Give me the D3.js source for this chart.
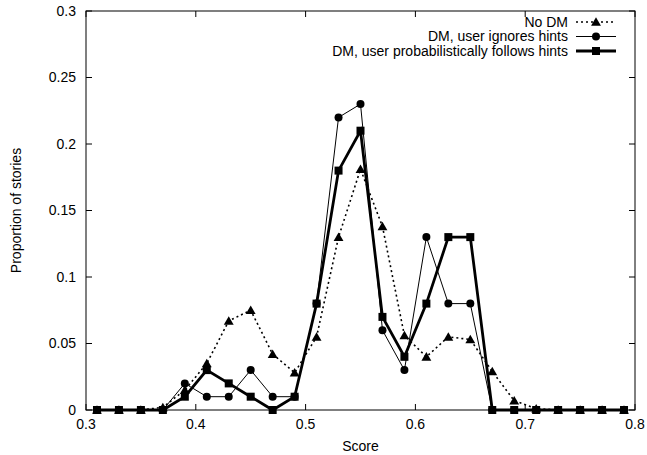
<!DOCTYPE html>
<style>
body { margin: 0; background: #fff; }
text { font-family: "Liberation Sans", Arial, sans-serif; }
</style>
<body>
<svg width="647" height="455"></svg>
<script src="https://d3js.org/d3.v7.min.js"></script>
<script>
var scores = [0.31, 0.33, 0.35, 0.37, 0.39, 0.41, 0.43, 0.45, 0.47, 0.49, 0.51, 0.53, 0.55,
              0.57, 0.59, 0.61, 0.63, 0.65, 0.67, 0.69, 0.71, 0.73, 0.75, 0.77, 0.79];
var noDM     = [0, 0, 0, 0.002, 0.015, 0.035, 0.067, 0.075, 0.042, 0.028, 0.055, 0.13, 0.181,
                0.138, 0.056, 0.04, 0.055, 0.053, 0.029, 0.007, 0.001, 0, 0, 0, 0];
var ignores  = [0, 0, 0, 0, 0.02, 0.01, 0.01, 0.03, 0.01, 0.01, 0.08, 0.22, 0.23,
                0.06, 0.03, 0.13, 0.08, 0.08, 0, 0, 0, 0, 0, 0, 0];
var follows  = [0, 0, 0, 0, 0.01, 0.03, 0.02, 0.01, 0, 0.01, 0.08, 0.18, 0.21,
                0.07, 0.04, 0.08, 0.13, 0.13, 0, 0, 0, 0, 0, 0, 0];
var xTicks = [0.3, 0.4, 0.5, 0.6, 0.7, 0.8];
var yTicks = [0, 0.05, 0.1, 0.15, 0.2, 0.25, 0.3];
var labels = ["No DM", "DM, user ignores hints", "DM, user probabilistically follows hints"];

var svg = d3.select("svg"),
    plot = {left: 86, right: 635, top: 11, bottom: 410},
    fs = 14;

var x = d3.scaleLinear().domain([0.3, 0.8]).range([plot.left, plot.right]);
var y = d3.scaleLinear().domain([0, 0.3]).range([plot.bottom, plot.top]);

// ticks, mirrored gnuplot style
var tl = 6;
svg.append("g").selectAll("line").data(xTicks).enter().append("line")
    .attr("x1", d => x(d)).attr("x2", d => x(d))
    .attr("y1", plot.bottom).attr("y2", plot.bottom - tl)
    .attr("stroke", "#000");
svg.append("g").selectAll("line").data(xTicks).enter().append("line")
    .attr("x1", d => x(d)).attr("x2", d => x(d))
    .attr("y1", plot.top).attr("y2", plot.top + tl)
    .attr("stroke", "#000");
svg.append("g").selectAll("line").data(yTicks).enter().append("line")
    .attr("x1", plot.left).attr("x2", plot.left + tl)
    .attr("y1", d => y(d)).attr("y2", d => y(d))
    .attr("stroke", "#000");
svg.append("g").selectAll("line").data(yTicks).enter().append("line")
    .attr("x1", plot.right).attr("x2", plot.right - tl)
    .attr("y1", d => y(d)).attr("y2", d => y(d))
    .attr("stroke", "#000");

svg.append("g").selectAll("text").data(xTicks).enter().append("text")
    .attr("x", d => x(d)).attr("y", plot.bottom + 19)
    .attr("text-anchor", "middle").attr("font-size", fs)
    .text(d => d3.format("")(d));
svg.append("g").selectAll("text").data(yTicks).enter().append("text")
    .attr("x", plot.left - 10).attr("y", d => y(d)).attr("dy", "0.35em")
    .attr("text-anchor", "end").attr("font-size", fs)
    .text(d => d3.format("")(d));

svg.append("text").attr("x", (plot.left + plot.right) / 2).attr("y", 451)
    .attr("text-anchor", "middle").attr("font-size", fs).text("Score");
svg.append("text").attr("transform", "translate(21," + ((plot.top + plot.bottom) / 2) + ") rotate(-90)")
    .attr("text-anchor", "middle").attr("font-size", fs).text("Proportion of stories");

var line = d3.line().x((d, i) => x(scores[i])).y(d => y(d));

var series = [
  {values: noDM, width: 1.6, dash: "2,3", marker: "tri"},
  {values: ignores, width: 1, dash: null, marker: "circle"},
  {values: follows, width: 2.8, dash: null, marker: "square"}
];

function marker(g, type, cx, cy) {
  if (type == "tri") {
    g.append("path").attr("d", d3.symbol(d3.symbolTriangle, 42)())
      .attr("transform", "translate(" + cx + "," + (cy + 1) + ")").attr("fill", "#000");
  } else if (type == "circle") {
    g.append("circle").attr("cx", cx).attr("cy", cy).attr("r", 4).attr("fill", "#000");
  } else {
    g.append("rect").attr("x", cx - 4).attr("y", cy - 4).attr("width", 8).attr("height", 8).attr("fill", "#000");
  }
}

series.forEach(function(s) {
  svg.append("path").datum(s.values)
    .attr("d", line)
    .attr("fill", "none").attr("stroke", "#000")
    .attr("stroke-width", s.width)
    .attr("stroke-dasharray", s.dash)
    .attr("stroke-linejoin", "miter");
  var g = svg.append("g");
  s.values.forEach(function(v, i) { marker(g, s.marker, x(scores[i]), y(v)); });
});

// legend
series.forEach(function(s, i) {
  var ly = 22 + i * 14.5;
  svg.append("text").attr("x", 568).attr("y", ly).attr("dy", "0.35em")
    .attr("text-anchor", "end").attr("font-size", fs).text(labels[i]);
  svg.append("line").attr("x1", 576).attr("x2", 616).attr("y1", ly).attr("y2", ly)
    .attr("stroke", "#000").attr("stroke-width", s.width).attr("stroke-dasharray", s.dash);
  marker(svg, s.marker, 596, ly);
});

// frame
svg.append("rect").attr("x", plot.left).attr("y", plot.top)
    .attr("width", plot.right - plot.left).attr("height", plot.bottom - plot.top)
    .attr("fill", "none").attr("stroke", "#000").attr("stroke-width", 1);
</script>
</body>
